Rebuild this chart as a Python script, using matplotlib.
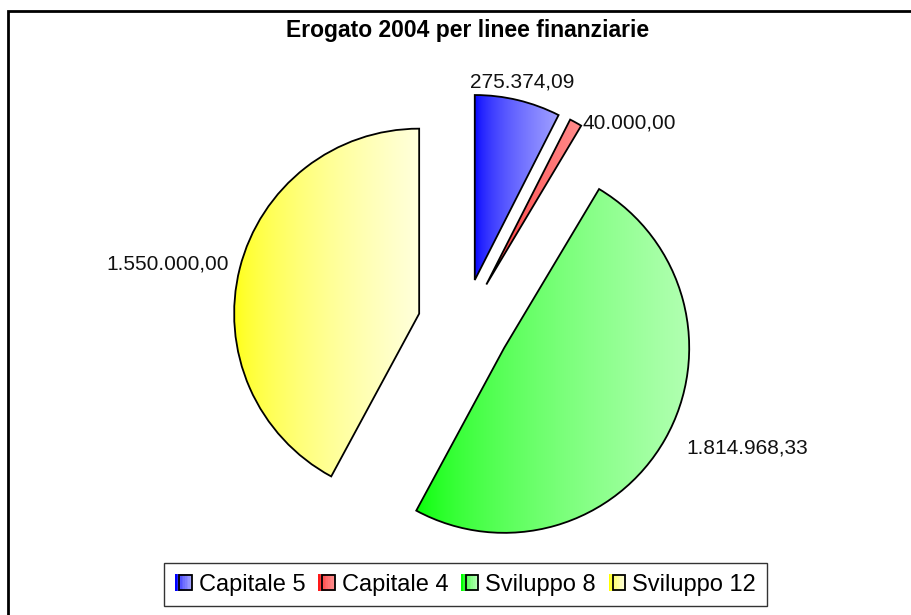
import numpy as np
import matplotlib
matplotlib.use("Agg")
import matplotlib.pyplot as plt
from matplotlib.patches import Rectangle, Patch
from matplotlib.legend_handler import HandlerBase
from matplotlib.colors import to_rgb

plt.rcParams["font.family"] = ["Liberation Sans", "DejaVu Sans"]

title = "Erogato 2004 per linee finanziarie"
categories = ["Capitale 5", "Capitale 4", "Sviluppo 8", "Sviluppo 12"]
values = [275374.09, 40000.00, 1814968.33, 1550000.00]
value_labels = ["275.374,09", "40.000,00", "1.814.968,33", "1.550.000,00"]
dark_colors = ["#0000ff", "#ff1a1a", "#00ff00", "#ffff00"]
light_colors = ["#a0a0ff", "#ff8c8c", "#b4ffb4", "#ffffdc"]


def gradient_image(c0, c1, n=256):
    c0, c1 = np.array(to_rgb(c0)), np.array(to_rgb(c1))
    t = np.linspace(0, 1, n) ** 0.6
    t = t[None, :, None]
    return c0 * (1 - t) + c1 * t


class GradientHandler(HandlerBase):
    def __init__(self, c0, c1):
        super().__init__()
        self.c0, self.c1 = np.array(to_rgb(c0)), np.array(to_rgb(c1))

    def create_artists(self, legend, orig_handle, xdescent, ydescent,
                       width, height, fontsize, trans):
        arts = []
        n = 10
        x0, y0 = -xdescent, -ydescent
        for i in range(n):
            t = (i / (n - 1)) ** 0.6
            col = self.c0 * (1 - t) + self.c1 * t
            arts.append(Rectangle((x0 + width * i / n, y0), width / n + 0.3, height,
                                  facecolor=col, edgecolor="none", transform=trans))
        arts.append(Rectangle((x0 + width * 0.25, y0 + height * 0.05), width * 0.75, height * 0.9,
                              fill=False, edgecolor="black", lw=1.3, transform=trans))
        return arts


W, H = 911, 615
fig = plt.figure(figsize=(W / 100, H / 100), dpi=100)
ax = fig.add_axes([0, 0, 1, 1])

R = 185.0
cx, cy = 464.0, 290.0
explode = [0.25] * len(values)
wedges, _ = ax.pie(values, colors=light_colors, startangle=90, counterclock=False,
                   explode=explode, radius=1.0,
                   wedgeprops=dict(edgecolor="black", linewidth=1.3))

label_dist = [1.1, 1.0, 1.1, 1.1]
label_shift = [0, 5, 4, 5]  # small horizontal nudges, in points
for w, c0, c1, lab, ld, sh in zip(wedges, dark_colors, light_colors, value_labels,
                                  label_dist, label_shift):
    path = w.get_path()
    verts = w.get_transform().transform(path.vertices)
    verts = ax.transData.inverted().transform(verts)
    xmin, xmax = verts[:, 0].min(), verts[:, 0].max()
    ymin, ymax = verts[:, 1].min(), verts[:, 1].max()
    im = ax.imshow(gradient_image(c0, c1), extent=[xmin, xmax, ymin, ymax],
                   aspect="auto", zorder=w.get_zorder() - 0.1, interpolation="bilinear")
    im.set_clip_path(w)
    w.set_facecolor("none")

    ang = np.deg2rad((w.theta1 + w.theta2) / 2)
    dx, dy = np.cos(ang), np.sin(ang)
    wc = w.center
    px, py = wc[0] + ld * dx, wc[1] + ld * dy
    if abs(dx) < 0.3:
        ha = "center"
    elif dx > 0:
        ha = "left"
    else:
        ha = "right"
    ax.annotate(lab, (px, py), xytext=(sh, 0), textcoords="offset points",
                ha=ha, va="center", fontsize=15, color="#111111")

ax.set_aspect("auto")
ax.set_xlim(-cx / R, (W - cx) / R)
ax.set_ylim(-cy / R, (H - cy) / R)
ax.axis("off")

fig.text(0.513, 1 - 31 / H, title, ha="center", va="center", fontsize=16.5, fontweight="bold")

fig.patches.append(Rectangle((8 / W, -0.2), 1.3, 0.2 + (1 - 11 / H), transform=fig.transFigure,
                             fill=False, edgecolor="black", lw=2, figure=fig))

handles = [Patch(label=c) for c in categories]
hmap = {h: GradientHandler(c0, c1) for h, c0, c1 in zip(handles, dark_colors, light_colors)}
leg = fig.legend(handles=handles, loc="center", bbox_to_anchor=(0.511, 0.049), ncol=4,
                 handler_map=hmap, fontsize=17, frameon=True, fancybox=False,
                 edgecolor="black", handlelength=0.7, handleheight=0.75, handletextpad=0.3,
                 columnspacing=0.55, borderpad=0.45)
leg.get_frame().set_linewidth(1.0)

fig.savefig("out.png", dpi=100)
